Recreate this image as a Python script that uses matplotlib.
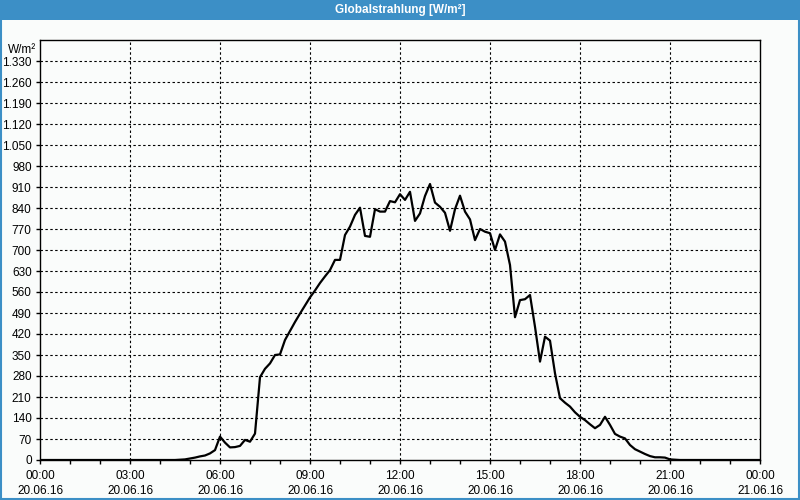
import numpy as np
import matplotlib
matplotlib.use('Agg')
import matplotlib.pyplot as plt
from matplotlib.patches import Rectangle

title = 'Globalstrahlung [W/m²]'
unit = 'W/m²'

# global radiation, 10-minute samples from 20.06.16 00:00 to 21.06.16 00:00
radiation = [
    0, 0, 0, 0, 0, 0, 0, 0, 0, 0, 0, 0, 0, 0, 0, 0, 0, 0,
    0, 0, 0, 0, 0, 0, 0, 0, 0, 0,
    1, 2, 5, 8, 12, 15, 22, 33,
    78, 58, 42, 43, 47, 67,
    61, 88, 276, 304, 322, 350,
    352, 400, 430, 460, 488, 515,
    542, 565, 590, 612, 633, 667,
    667, 750, 778, 817, 841, 747,
    744, 836, 828, 828, 863, 859,
    886, 867, 894, 797, 822, 880,
    920, 858, 844, 824, 764, 836,
    881, 828, 802, 733, 770, 761,
    756, 700, 752, 728, 650, 476,
    533, 536, 550, 444, 328, 411,
    398, 289, 206, 191, 178, 159,
    144, 133, 119, 106, 117, 144,
    117, 87, 78, 72, 50, 36,
    28, 20, 13, 9, 9, 8,
    2, 1, 0, 0, 0, 0,
    0, 0, 0, 0, 0, 0, 0, 0, 0, 0, 0, 0, 0,
]

tick_hours = [0, 3, 6, 9, 12, 15, 18, 21, 24]
tick_labels = [
    '00:00\n20.06.16', '03:00\n20.06.16', '06:00\n20.06.16',
    '09:00\n20.06.16', '12:00\n20.06.16', '15:00\n20.06.16',
    '18:00\n20.06.16', '21:00\n20.06.16', '00:00\n21.06.16',
]
y_ticks = list(range(0, 1331, 70))

hours = np.arange(len(radiation)) / 6.0

blue = '#3c8fc6'
bg = '#fafcfb'

plt.rcParams['font.family'] = ['Liberation Sans', 'DejaVu Sans']

fig = plt.figure(figsize=(8, 5), dpi=100, facecolor=bg)
fig.patches.append(Rectangle((0, 0.96), 1, 0.04, transform=fig.transFigure,
                             facecolor=blue, edgecolor='none', zorder=0))
fig.patches.append(Rectangle((0.001, 0.002), 0.998, 0.996, transform=fig.transFigure,
                             facecolor='none', edgecolor=blue, linewidth=1.5, zorder=5))
fig.text(0.5, 0.979, title, color='white', fontsize=8.5, fontweight='bold',
         ha='center', va='center')

ax = fig.add_axes([0.05, 0.08, 0.90, 0.84])
ax.set_facecolor(bg)
ax.plot(hours, radiation, color='black', linewidth=1.6, zorder=3)

ax.set_xlim(0, 24)
ax.set_ylim(0, 1400)
ax.set_xticks(tick_hours)
ax.set_xticklabels(tick_labels, fontsize=8.5, linespacing=1.35)
ax.set_xticks(range(0, 25), minor=True)
ax.set_yticks(y_ticks)
ax.set_yticklabels([f'{v:,}'.replace(',', '.') for v in y_ticks], fontsize=8.5)

ax.tick_params(axis='both', which='both', direction='out', length=3, width=1,
               color='black', labelcolor='black')
ax.tick_params(axis='x', which='major', pad=4)
ax.tick_params(axis='y', pad=3)

for h in tick_hours[1:-1]:
    ax.axvline(h, color='black', linewidth=0.8, dashes=(2.2, 2.2), zorder=1)
for v in y_ticks[1:]:
    ax.axhline(v, color='black', linewidth=0.8, dashes=(2.2, 2.2), zorder=1)

for s in ax.spines.values():
    s.set_linewidth(1)
    s.set_color('black')

ax.text(-0.006, 0.99, unit, transform=ax.transAxes, ha='right', va='top', fontsize=8.5)

fig.savefig('out.png', dpi=100, facecolor=bg)
